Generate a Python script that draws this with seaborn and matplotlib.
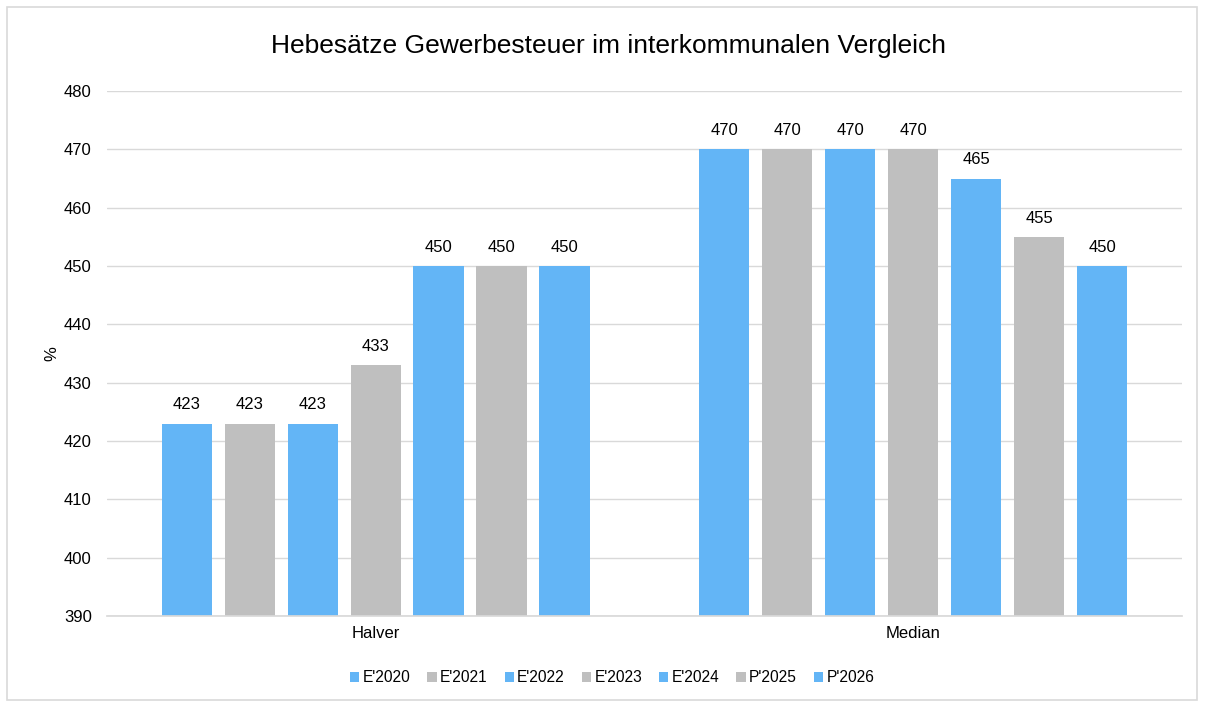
import pandas as pd
import matplotlib.pyplot as plt
import seaborn as sns
from matplotlib.patches import Rectangle

categories = ['Halver', 'Median']
years = ["E'2020", "E'2021", "E'2022", "E'2023", "E'2024", "P'2025", "P'2026"]
halver = [423, 423, 423, 433, 450, 450, 450]
median = [470, 470, 470, 470, 465, 455, 450]

rows = []
for i, y in enumerate(years):
    rows.append({'Gemeinde': 'Halver', 'Jahr': y, 'Wert': halver[i]})
    rows.append({'Gemeinde': 'Median', 'Jahr': y, 'Wert': median[i]})
df = pd.DataFrame(rows)

blue = '#63B5F6'
grey = '#BFBFBF'
palette = [blue if i % 2 == 0 else grey for i in range(len(years))]

sns.set_theme(style="white")
plt.rcParams['font.family'] = ['Liberation Sans', 'DejaVu Sans']
plt.rcParams['text.color'] = 'black'
plt.rcParams['axes.labelcolor'] = 'black'

fig = plt.figure(figsize=(12.05, 7.04), dpi=100)
ax = fig.add_axes([0.0888, 0.125, 0.892, 0.7457])

sns.barplot(data=df, x='Gemeinde', y='Wert', hue='Jahr', order=categories,
            hue_order=years, palette=palette, width=0.82, gap=0.2,
            saturation=1, linewidth=0, ax=ax, legend=True)

ax.set_ylim(390, 480)
ax.set_yticks(range(390, 481, 10))
ax.grid(axis='y', color='#D9D9D9', linewidth=1)
ax.set_axisbelow(True)
for s in ['top', 'right', 'left']:
    ax.spines[s].set_visible(False)
ax.spines['bottom'].set_color('#D9D9D9')
ax.tick_params(axis='both', length=0, labelsize=12, colors='black')
ax.tick_params(axis='y', pad=11)
ax.tick_params(axis='x', pad=7)
ax.set_xlabel('')
ax.set_ylabel('%', fontsize=12, labelpad=3)

for c in ax.containers:
    ax.bar_label(c, fmt='%d', padding=8, fontsize=12, color='black')

fig.suptitle('Hebesätze Gewerbesteuer im interkommunalen Vergleich',
             x=0.505, y=0.935, va='center', fontsize=19, color='black')

handles, labels = ax.get_legend_handles_labels()
ax.legend(handles, labels, loc='center', bbox_to_anchor=(0.508, 0.037),
          bbox_transform=fig.transFigure,
          ncol=len(years), frameon=False, fontsize=11.2, handlelength=0.6,
          handleheight=0.6, handletextpad=0.2, columnspacing=1.1)

fig.patches.append(Rectangle((7 / 1205, 4 / 704), 1190 / 1205, 693 / 704,
                             transform=fig.transFigure, fill=False,
                             edgecolor='#D9D9D9', linewidth=1.2))

fig.savefig('out.png', dpi=100)
